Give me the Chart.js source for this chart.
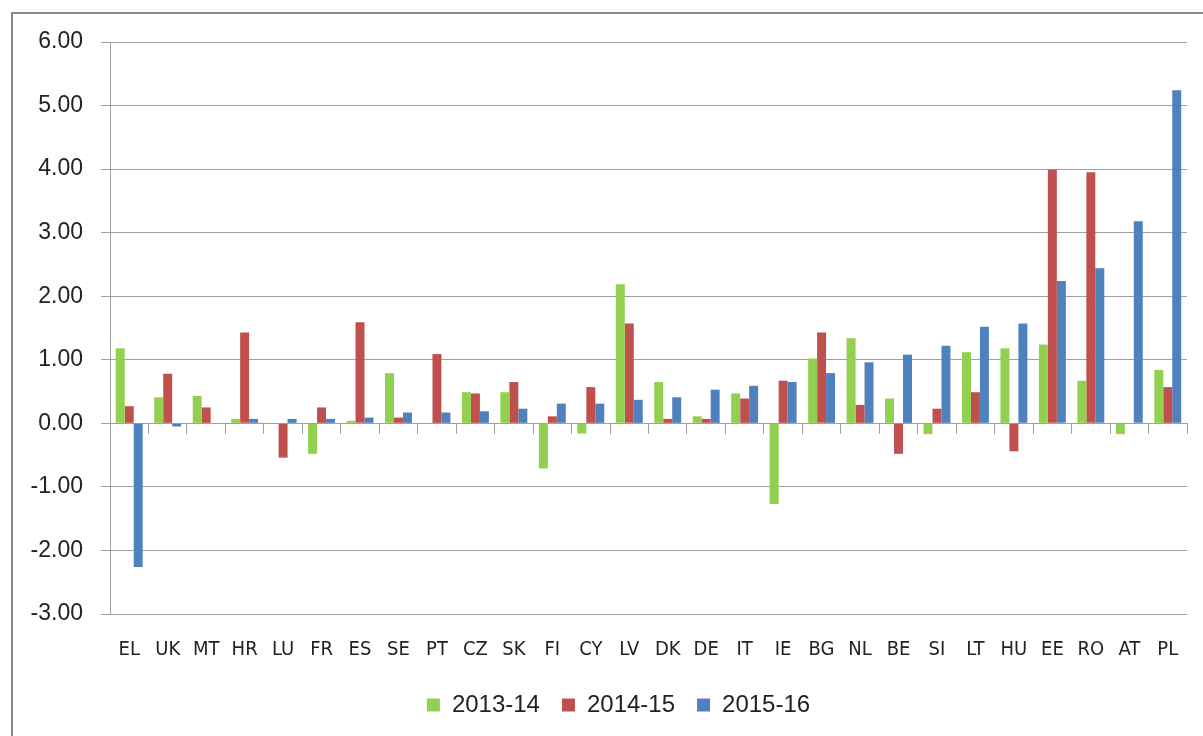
<!DOCTYPE html>
<html>
<head>
<meta charset="utf-8">
<script src="https://cdn.jsdelivr.net/npm/chart.js@4/dist/chart.umd.min.js"></script>
<style>
  html, body { margin: 0; padding: 0; background: #fff; overflow: hidden; }
  #frame { position: absolute; left: 11px; top: 12px; width: 1300px; height: 800px;
           border-left: 2px solid #8a8a8a; border-top: 2px solid #8a8a8a; }
  #chart { position: absolute; left: 0; top: 0; }
</style>
</head>
<body>
<div id="frame"></div>
<canvas id="chart" width="1203" height="727"></canvas>
<script>
const countries = ['EL', 'UK', 'MT', 'HR', 'LU', 'FR', 'ES', 'SE', 'PT', 'CZ', 'SK', 'FI', 'CY', 'LV',
  'DK', 'DE', 'IT', 'IE', 'BG', 'NL', 'BE', 'SI', 'LT', 'HU', 'EE', 'RO', 'AT', 'PL'];

const y2013 = [1.18, 0.41, 0.43, 0.07, 0, -0.48, 0.04, 0.79, 0, 0.49, 0.49, -0.71, -0.16, 2.19,
  0.65, 0.11, 0.47, -1.27, 1.02, 1.34, 0.39, -0.17, 1.12, 1.18, 1.24, 0.67, -0.17, 0.84];
const y2014 = [0.27, 0.78, 0.25, 1.43, -0.54, 0.25, 1.59, 0.09, 1.09, 0.47, 0.65, 0.11, 0.57, 1.57,
  0.07, 0.07, 0.39, 0.67, 1.43, 0.29, -0.48, 0.23, 0.49, -0.44, 3.99, 3.95, 0, 0.57];
const y2015 = [-2.26, -0.05, 0, 0.07, 0.07, 0.07, 0.09, 0.17, 0.17, 0.19, 0.23, 0.31, 0.31, 0.37,
  0.41, 0.53, 0.59, 0.65, 0.79, 0.96, 1.08, 1.22, 1.52, 1.57, 2.24, 2.44, 3.18, 5.24];

const seriesNames = ['2013-14', '2014-15', '2015-16'];
const colors = ['#92d050', '#c0504d', '#4f81bd'];

const gridGrey = '#a0a0a0';
const textColor = '#222';

// legend in the original sits centred under the plot, not the whole canvas
const legendShift = {
  id: 'legendShift',
  afterLayout(chart) {
    chart.legend.left += 25;
    chart.legend.right += 25;
  }
};

new Chart(document.getElementById('chart'), {
  type: 'bar',
  data: {
    labels: countries,
    datasets: [y2013, y2014, y2015].map((d, i) => ({
      label: seriesNames[i],
      data: d,
      backgroundColor: colors[i],
      borderWidth: 0,
      categoryPercentage: 0.7,
      barPercentage: 1.0,
      xAxisID: 'x'
    }))
  },
  plugins: [legendShift],
  options: {
    responsive: false,
    animation: false,
    devicePixelRatio: 1,
    layout: { padding: { top: 42, right: 16, bottom: 0, left: 0 } },
    plugins: {
      tooltip: { enabled: false },
      legend: {
        position: 'bottom',
        labels: {
          boxWidth: 13,
          boxHeight: 13,
          padding: 22,
          color: textColor,
          font: { family: 'Liberation Sans, Arial, sans-serif', size: 24 }
        }
      }
    },
    scales: {
      x: {
        type: 'category',
        position: { y: 0 },
        offset: true,
        grid: { drawOnChartArea: false, offset: true, tickLength: 10, color: gridGrey },
        border: { color: gridGrey, width: 1 },
        ticks: { display: false }
      },
      x2: {
        type: 'category',
        position: 'bottom',
        offset: true,
        grid: { display: false, drawTicks: false },
        border: { display: false },
        ticks: {
          padding: 24,
          autoSkip: false,
          maxRotation: 0,
          color: textColor,
          font: { family: 'Liberation Sans Narrow, DejaVu Sans Condensed, sans-serif', size: 20 }
        },
        afterFit: s => { s.height = 57; }
      },
      y: {
        min: -3,
        max: 6,
        grid: { color: gridGrey, tickLength: 9, lineWidth: 1 },
        border: { color: gridGrey, width: 1 },
        ticks: {
          stepSize: 1,
          padding: 18,
          color: textColor,
          font: { family: 'Liberation Sans, Arial, sans-serif', size: 23 },
          callback: v => v.toFixed(2)
        },
        afterFit: s => { s.width = 110; }
      }
    }
  }
});
</script>
</body>
</html>
